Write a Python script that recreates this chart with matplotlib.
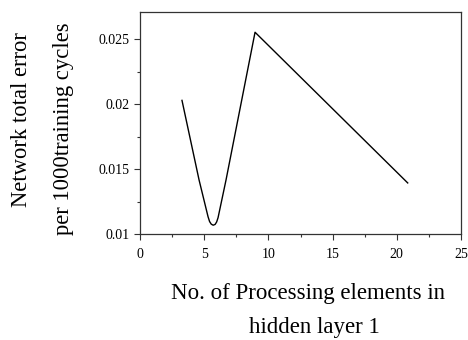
import matplotlib
matplotlib.use("Agg")
import matplotlib.pyplot as plt
from matplotlib.ticker import MultipleLocator
import numpy as np

plt.rcParams["font.family"] = ["Liberation Serif", "DejaVu Serif"]

# points
elements = [3.27, 4.6, 5.3, 5.42, 5.55, 5.7, 5.85, 5.97, 6.08, 6.7, 8.96, 20.85]
error = [0.0203, 0.01418, 0.01135, 0.01098, 0.01078, 0.01070, 0.01076, 0.01095, 0.01128, 0.01418, 0.02554, 0.01395]

fig = plt.figure(figsize=(4.68, 3.40), dpi=100)
ax = fig.add_axes([140 / 468, 1 - 234.3 / 340, 321 / 468, 222.6 / 340])

ax.plot(elements, error, color="black", lw=1.0)

ax.set_xlim(0, 25)
ax.set_ylim(0.01, 0.02712)
ax.xaxis.set_major_locator(MultipleLocator(5))
ax.xaxis.set_minor_locator(MultipleLocator(2.5))
ax.yaxis.set_major_locator(MultipleLocator(0.005))
ax.yaxis.set_minor_locator(MultipleLocator(0.0025))
ax.set_yticks([0.01, 0.015, 0.02, 0.025])
ax.set_yticklabels(["0.01", "0.015", "0.02", "0.025"])
ax.tick_params(which="major", direction="out", length=4, width=0.8, labelsize=10, color="#333333")
ax.tick_params(which="minor", direction="out", length=2.5, width=0.8, color="#333333")
ax.tick_params(axis="x", pad=6)
for s in ax.spines.values():
    s.set_color("#333333")
    s.set_linewidth(0.9)

fig.text(22 / 468, 1 - 120 / 340, "Network total error", rotation=90,
         ha="center", va="center", fontsize=16.3)
fig.text(63 / 468, 1 - 129 / 340, "per 1000training cycles", rotation=90,
         ha="center", va="center", fontsize=16.3)
fig.text(308 / 468, 1 - 293 / 340, "No. of Processing elements in",
         ha="center", va="center", fontsize=16.5)
fig.text(314 / 468, 1 - 328 / 340, "hidden layer 1",
         ha="center", va="center", fontsize=16.5)

fig.savefig("out.png", dpi=100)
